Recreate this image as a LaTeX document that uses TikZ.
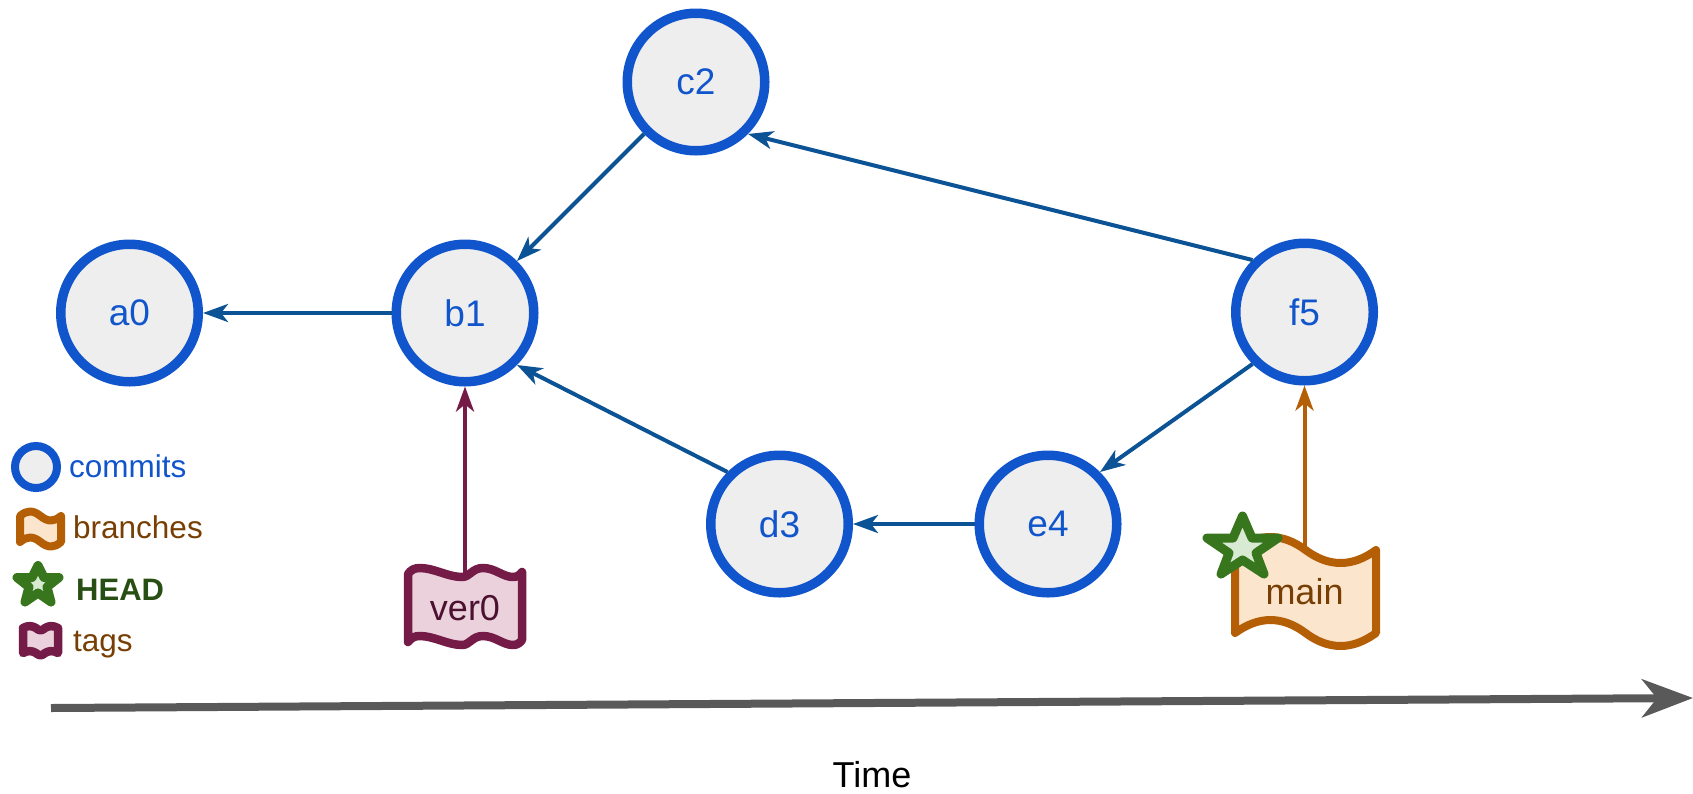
\documentclass[tikz,border=0pt]{standalone}
\usepackage{fontspec}
\setmainfont{Liberation Sans}
\usetikzlibrary{arrows.meta}
\definecolor{cblue}{HTML}{1155CC}
\definecolor{cfill}{HTML}{EEEEEE}
\definecolor{edgeblue}{HTML}{0B5394}
\definecolor{tagdark}{HTML}{741B47}
\definecolor{tagfill}{HTML}{EAD1DC}
\definecolor{tagtext}{HTML}{4C1130}
\definecolor{brdark}{HTML}{B45F06}
\definecolor{brfill}{HTML}{FCE5CD}
\definecolor{brtext}{HTML}{783F04}
\definecolor{stardark}{HTML}{38761D}
\definecolor{starfill}{HTML}{D9EAD3}
\definecolor{headtext}{HTML}{274E13}
\definecolor{timegray}{HTML}{595959}
\tikzset{
  x=1pt,y=-1pt,
  commit/.style={circle,draw=cblue,fill=cfill,line width=9.5pt,minimum size=137.5pt,inner sep=0pt,text=cblue,font=\fontsize{37}{40}\selectfont},
  thinarrow/.style={line width=4pt,-{Stealth[length=25pt,width=18pt,inset=7pt]}},
  parentedge/.style={thinarrow,draw=edgeblue},
  tagedge/.style={thinarrow,draw=tagdark},
  branchedge/.style={thinarrow,draw=brdark},
  tagshape/.style={draw=tagdark,fill=tagfill,line width=8.5pt,line join=round},
  branchshape/.style={draw=brdark,fill=brfill,line width=8pt,line join=round},
  starshape/.style={draw=stardark,fill=starfill,line width=9pt,line join=round},
  labeltext/.style={inner sep=0pt,font=\fontsize{36}{40}\selectfont},
  legendtext/.style={inner sep=0pt,anchor=base west,font=\fontsize{31.5}{36}\selectfont},
}
\begin{document}
\begin{tikzpicture}
\useasboundingbox (0,0) rectangle (1693,793);
% commits
\node[commit] (a0) at (129.5,313) {a0};
\node[commit] (b1) at (465,313) {b1};
\node[commit] (c2) at (696,82) {c2};
\node[commit] (d3) at (779.5,524) {d3};
\node[commit] (e4) at (1048,524) {e4};
\node[commit] (f5) at (1304.5,312) {f5};
% tag label placeholders (outlines are drawn below)
\path (465,608) node[labeltext,minimum width=114pt,minimum height=68pt] (ver0) {\phantom{ver0}};
\path (1304.5,592) node[labeltext,minimum width=141pt,minimum height=84pt] (main) {\phantom{main}};
% arrows
\draw[parentedge] (b1) -- (a0);
\draw[parentedge] (c2.-135) -- (b1.45);
\draw[parentedge] (d3.135) -- (b1.-45);
\draw[parentedge] (e4) -- (d3);
\draw[parentedge] (f5.-135) -- (e4.45);
\draw[parentedge] (f5.135) -- (c2.-45);
\draw[tagedge] (ver0.north) -- (b1.south);
\draw[branchedge] (main.north) -- (f5.south);
% ver0 tag
\draw[tagshape] (408,574) .. controls (411,570) and (414,568) .. (420,568)
  .. controls (434,568) and (448,577) .. (462,577)
  .. controls (470,577) and (472,568) .. (483,568)
  .. controls (495,568) and (503,577) .. (513,577)
  .. controls (517,577) and (520,575) .. (522,572)
  -- (522,640)
  .. controls (520,643) and (517,645) .. (513,645)
  .. controls (503,645) and (495,636) .. (483,636)
  .. controls (472,636) and (470,645) .. (462,645)
  .. controls (448,645) and (434,636) .. (420,636)
  .. controls (414,636) and (411,638) .. (408,642) -- cycle;
\node[labeltext,text=tagtext] at (ver0.center) {ver0};
% main tag
\draw[branchshape] (1235,550) .. controls (1258.8,532.7) and (1282.3,532.7) .. (1305.5,550)
  .. controls (1328.7,567.3) and (1352.3,567.3) .. (1376,550)
  -- (1376,633)
  .. controls (1352.3,650.3) and (1328.7,650.3) .. (1305.5,633)
  .. controls (1282.3,615.7) and (1258.8,615.7) .. (1235,633) -- cycle;
\node[labeltext,text=brtext] at (main.center) {main};
% star on main
\draw[starshape] (1242.5,516) -- (1252,538) -- (1278,538) -- (1256,553) -- (1264,574)
  -- (1242.5,560) -- (1221,574) -- (1229,553) -- (1207,538) -- (1233,538) -- cycle;
% legend
\node[circle,draw=cblue,fill=cfill,line width=8pt,minimum size=42pt,inner sep=0pt] (lc) at (36,467) {};
\node[legendtext,text=cblue] (lct) at (69,477) {commits};
\draw[branchshape] (20,516) .. controls (27,510) and (33,510) .. (40.5,516)
  .. controls (48,522) and (54,522) .. (61,516)
  -- (61,542) .. controls (54,548) and (48,548) .. (40.5,542)
  .. controls (33,536) and (27,536) .. (20,542) -- cycle;
\node[legendtext,text=brtext] (lbt) at (73,538) {branches};
\draw[starshape] (38,565.5) -- (44,577.5) -- (59,577.5) -- (47,587) -- (51,602)
  -- (38,593) -- (25,602) -- (29,587) -- (17,577.5) -- (32,577.5) -- cycle;
\node[legendtext,text=headtext,font=\fontsize{31}{36}\selectfont\bfseries] (lht) at (76,600) {HEAD};
\draw[tagshape] (23,628) .. controls (28,625) and (33,626) .. (36,628)
  .. controls (39,631) and (42,631) .. (45,628)
  .. controls (48,626) and (53,625) .. (58,628)
  -- (58,653) .. controls (53,650) and (48,651) .. (45,653)
  .. controls (42,656) and (39,656) .. (36,653)
  .. controls (33,651) and (28,650) .. (23,653) -- cycle;
\node[legendtext,text=brtext] (ltt) at (73,651) {tags};
% time axis
\coordinate (tstart) at (51,708);
\coordinate (tend) at (1693,698);
\draw[draw=timegray,line width=8pt,-{Stealth[length=51pt,width=38pt,inset=15pt]}] (tstart) -- (tend);
\node[labeltext,text=black] (time) at (872,775) {Time};
\end{tikzpicture}
\end{document}
